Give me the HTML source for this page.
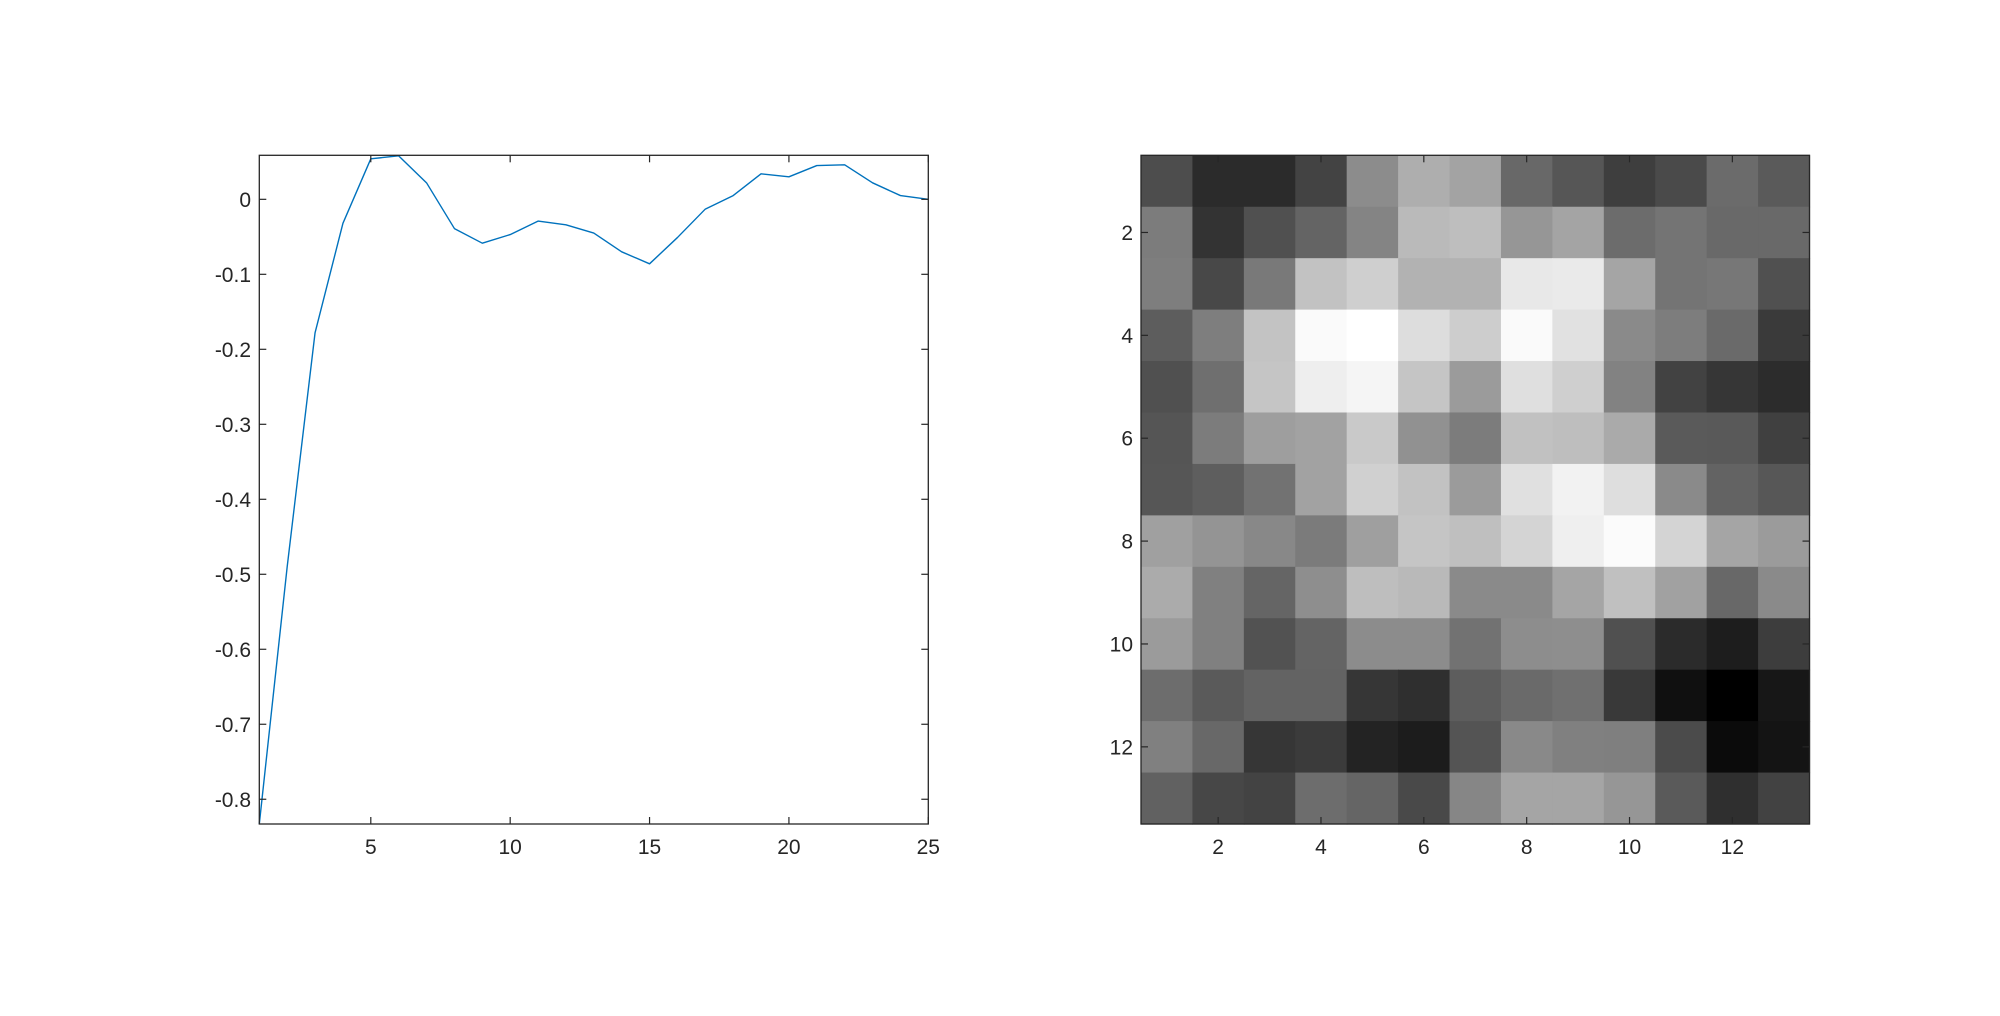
<!DOCTYPE html>
<html><head><meta charset="utf-8">
<style>
html,body{margin:0;padding:0;background:#fff;}
svg{display:block;font-family:"Liberation Sans",Arial,sans-serif;}
</style></head>
<body>
<svg id="fig" width="2000" height="1016" viewBox="0 0 2000 1016" xmlns="http://www.w3.org/2000/svg">
<rect width="2000" height="1016" fill="#fff"/>
<g id="left"></g>
<g id="right"></g>
</svg>
<script>
const lineX = [1,2,3,4,5,6,7,8,9,10,11,12,13,14,15,16,17,18,19,20,21,22,23,24,25];
const lineY = [-0.833,-0.49,-0.178,-0.032,0.054,0.058,0.022,-0.039,-0.0585,-0.047,-0.029,-0.034,-0.045,-0.070,-0.086,-0.051,-0.013,0.005,0.034,0.030,0.045,0.046,0.022,0.005,0.0];
const lineXTicks = [5,10,15,20,25];
const lineYTicks = [0,-0.1,-0.2,-0.3,-0.4,-0.5,-0.6,-0.7,-0.8];
const heatTicks = [2,4,6,8,10,12];
const heatRows = [
[0x4d,0x2b,0x2b,0x43,0x8c,0xae,0xa3,0x68,0x56,0x3e,0x4a,0x6b,0x5a],
[0x7c,0x33,0x50,0x64,0x84,0xba,0xbe,0x96,0xa4,0x6c,0x74,0x69,0x69],
[0x7e,0x48,0x79,0xc2,0xcf,0xb2,0xb2,0xe8,0xea,0xa5,0x74,0x77,0x50],
[0x5d,0x7e,0xc3,0xfa,0xff,0xdd,0xcd,0xfa,0xe1,0x8a,0x7d,0x6a,0x3a],
[0x50,0x6f,0xc5,0xee,0xf5,0xc5,0x9b,0xdf,0xcf,0x82,0x42,0x36,0x2c],
[0x55,0x7c,0x9e,0xa2,0xc9,0x91,0x7c,0xc1,0xbe,0xaa,0x5a,0x59,0x40],
[0x56,0x5e,0x72,0xa2,0xd0,0xc2,0x9b,0xe0,0xf2,0xde,0x8a,0x63,0x57],
[0xa0,0x94,0x88,0x7b,0x9f,0xc5,0xbf,0xd4,0xef,0xfb,0xd4,0xa5,0x9b],
[0xab,0x80,0x65,0x8e,0xbe,0xb9,0x8a,0x8a,0xa5,0xc0,0xa1,0x68,0x8a],
[0x9b,0x80,0x52,0x64,0x8c,0x8c,0x72,0x8d,0x8e,0x50,0x2b,0x1d,0x3d],
[0x6d,0x5a,0x63,0x63,0x36,0x2f,0x5d,0x6a,0x70,0x39,0x10,0x00,0x17],
[0x80,0x68,0x36,0x3b,0x23,0x1c,0x54,0x89,0x80,0x7f,0x4b,0x0b,0x14],
[0x61,0x47,0x43,0x6d,0x65,0x49,0x86,0xa5,0xa5,0x96,0x5a,0x2f,0x42]
];

const NS='http://www.w3.org/2000/svg';
function mk(tag,attrs,parent){const e=document.createElementNS(NS,tag);for(const k in attrs)e.setAttribute(k,attrs[k]);parent.appendChild(e);return e;}

// ---- line chart ----
const L={x0:259.3,x1:928.3,y0:155.3,y1:824};
const xmin=1,xmax=25,ymin=-0.833,ymax=0.0587;
const sx=v=>L.x0+(v-xmin)/(xmax-xmin)*(L.x1-L.x0);
const sy=v=>L.y1-(v-ymin)/(ymax-ymin)*(L.y1-L.y0);
const lg=document.getElementById('left');
let d='';
lineX.forEach((x,i)=>{d+=(i?'L':'M')+sx(x).toFixed(2)+' '+sy(lineY[i]).toFixed(2);});
const path=mk('path',{d:d,fill:'none',stroke:'#0072BD','stroke-width':1.4,'stroke-linejoin':'round'},lg);


const ax=mk('rect',{x:L.x0,y:L.y0,width:L.x1-L.x0,height:L.y1-L.y0,fill:'none',stroke:'#262626','stroke-width':1.3},lg);


lineXTicks.forEach(t=>{
  const x=sx(t);
  mk('line',{x1:x,y1:L.y1,x2:x,y2:L.y1-7,stroke:'#262626','stroke-width':1.2},lg);
  mk('line',{x1:x,y1:L.y0,x2:x,y2:L.y0+7,stroke:'#262626','stroke-width':1.2},lg);
  const tx=mk('text',{x:x,y:854,'text-anchor':'middle','font-size':21,fill:'#262626'},lg);
  tx.textContent=t;
  
  
});
lineYTicks.forEach(t=>{
  const y=sy(t);
  mk('line',{x1:L.x0,y1:y,x2:L.x0+7,y2:y,stroke:'#262626','stroke-width':1.2},lg);
  mk('line',{x1:L.x1,y1:y,x2:L.x1-7,y2:y,stroke:'#262626','stroke-width':1.2},lg);
  const tx=mk('text',{x:251,y:y+7.5,'text-anchor':'end','font-size':21,fill:'#262626'},lg);
  tx.textContent=t===0?'0':String(t);
  
  
});

// ---- heatmap ----
const H={x0:1141,x1:1809.5,y0:155.3,y1:824};
const n=13;
const cw=(H.x1-H.x0)/n, ch=(H.y1-H.y0)/n;
const hx=v=>H.x0+(v-0.5)*cw; // center of column v (1-based)
const hy=v=>H.y0+(v-0.5)*ch;
const rg=document.getElementById('right');
heatRows.forEach((row,r)=>{
  row.forEach((v,c)=>{
    const left=hx(c+1)-cw/2, top=hy(r+1)-ch/2;
    const cell=mk('rect',{x:left.toFixed(2),y:top.toFixed(2),width:(cw+0.6).toFixed(2),height:(ch+0.6).toFixed(2),fill:`rgb(${v},${v},${v})`},rg);
    
    
  });
});
const hb=mk('rect',{x:H.x0,y:H.y0,width:H.x1-H.x0,height:H.y1-H.y0,fill:'none',stroke:'#262626','stroke-width':1.3},rg);


heatTicks.forEach(t=>{
  const x=hx(t), y=hy(t);
  mk('line',{x1:x,y1:H.y1,x2:x,y2:H.y1-7,stroke:'#262626','stroke-width':1.2},rg);
  mk('line',{x1:x,y1:H.y0,x2:x,y2:H.y0+7,stroke:'#262626','stroke-width':1.2},rg);
  mk('line',{x1:H.x0,y1:y,x2:H.x0+7,y2:y,stroke:'#262626','stroke-width':1.2},rg);
  mk('line',{x1:H.x1,y1:y,x2:H.x1-7,y2:y,stroke:'#262626','stroke-width':1.2},rg);
  const tx=mk('text',{x:x,y:854,'text-anchor':'middle','font-size':21,fill:'#262626'},rg);
  tx.textContent=t;
  
  
  const ty=mk('text',{x:1133,y:y+7.5,'text-anchor':'end','font-size':21,fill:'#262626'},rg);
  ty.textContent=t;
  
  
});
</script>
</body></html>
